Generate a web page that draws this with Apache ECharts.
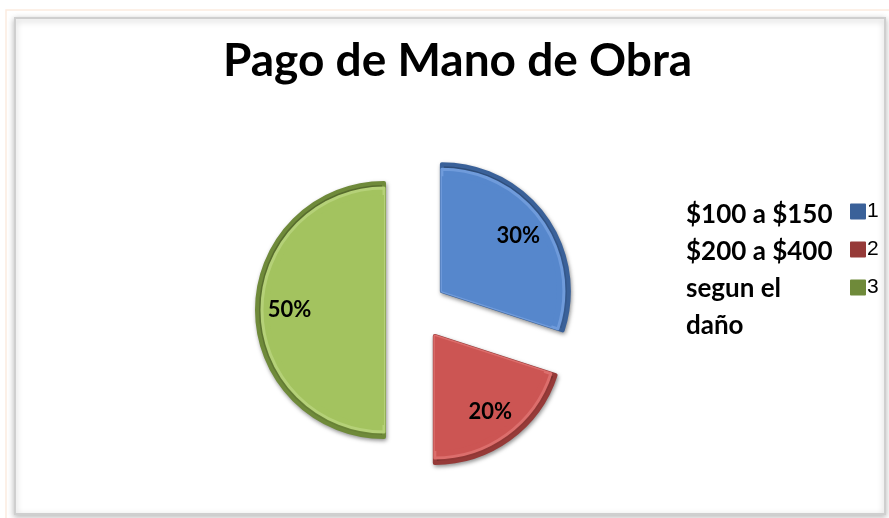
<!DOCTYPE html>
<html>
<head>
<meta charset="utf-8">
<script src="https://cdn.jsdelivr.net/npm/echarts@6/dist/echarts.min.js"></script>
<style>html,body{margin:0;padding:0;background:#fff}#c{width:889px;height:518px}</style>
</head>
<body>
<div id="c"></div>
<script>
const titleText = 'Pago de Mano de Obra';
const categories = ['1', '2', '3'];
const values = [30, 20, 50];
const sideNote = ['$100 a $150', '$200 a $400', 'segun el', 'daño'];

const fills = ['#5687CC', '#CC5553', '#A3C35F'];
const edges = ['#3A6199', '#963A38', '#6F8A3A'];
const lights = ['#6F9BDB', '#DC6E6C', '#B5D178'];

const chart = echarts.init(document.getElementById('c'), null, {renderer: 'canvas'});
const center = [416, 310];
const R = 127;
const off = 32;

function mk(fn) {
  return categories.map((n, i) => Object.assign({name: n, value: values[i], selected: true}, fn(i)));
}

chart.setOption({
  backgroundColor: '#fff',
  animation: false,
  title: {
    text: titleText, left: 218, top: 33,
    textStyle: {fontFamily: 'Lato', fontWeight: 'bold', fontSize: 46, color: '#000'}
  },
  legend: {
    orient: 'vertical', left: 845, top: 196, itemGap: 17,
    itemWidth: 14, itemHeight: 14, icon: 'rect',
    data: categories,
    textStyle: {fontFamily: 'Liberation Sans', fontSize: 21, color: '#000', padding: [0, 0, 0, -3]}
  },
  color: fills,
  graphic: [
    {type: 'rect', shape: {x: 6, y: 10, width: 890, height: 510}, style: {fill: 'none', stroke: '#FBEBE0', lineWidth: 1.5}, silent: true},
    {type: 'rect', shape: {x: 15, y: 18, width: 870, height: 496}, style: {fill: '#fff', stroke: '#CFCFCF', lineWidth: 2, shadowBlur: 6, shadowColor: 'rgba(0,0,0,0.25)', shadowOffsetY: 2}, silent: true, z: -10},
    {type: 'text', left: 686, top: 196, style: {text: sideNote.join('\n'), fontFamily: 'Lato', fontWeight: 'bold', fontSize: 26, lineHeight: 37, fill: '#000'}, silent: true}
  ],
  series: [
    {
      type: 'pie', center: center, radius: [0, R], startAngle: 90, clockwise: true,
      selectedMode: 'multiple', selectedOffset: off, silent: true,
      label: {show: false}, labelLine: {show: false},
      itemStyle: {borderWidth: 4, shadowBlur: 4, shadowColor: 'rgba(0,0,0,0.35)', shadowOffsetX: 1, shadowOffsetY: 2},
      emphasis: {disabled: true},
      data: mk(i => ({itemStyle: {color: edges[i], borderColor: edges[i]}}))
    },
    {
      type: 'pie', center: center, radius: [0, R - 5], startAngle: 90, clockwise: true,
      selectedMode: 'multiple', selectedOffset: off, silent: true,
      label: {show: false}, labelLine: {show: false},
      itemStyle: {borderWidth: 3},
      emphasis: {disabled: true},
      data: mk(i => ({itemStyle: {color: fills[i], borderColor: lights[i]}}))
    },
    {
      type: 'pie', center: center, radius: [0, R - 12], startAngle: 90, clockwise: true,
      selectedMode: 'multiple', selectedOffset: off, silent: true,
      label: {show: false}, labelLine: {show: false},
      itemStyle: {borderWidth: 0},
      emphasis: {disabled: true},
      data: mk(i => ({itemStyle: {color: fills[i]}}))
    },
    {
      type: 'pie', center: center, radius: [56, R], startAngle: 90, clockwise: true,
      selectedMode: 'multiple', selectedOffset: off, silent: true,
      itemStyle: {color: 'rgba(0,0,0,0)'},
      emphasis: {disabled: true},
      label: {show: true, position: 'inside', formatter: '{d}%', fontFamily: 'Lato', fontWeight: 'bold', fontSize: 22, color: '#000'},
      labelLine: {show: false},
      data: mk(i => ({}))
    }
  ]
});
</script>
</body>
</html>
